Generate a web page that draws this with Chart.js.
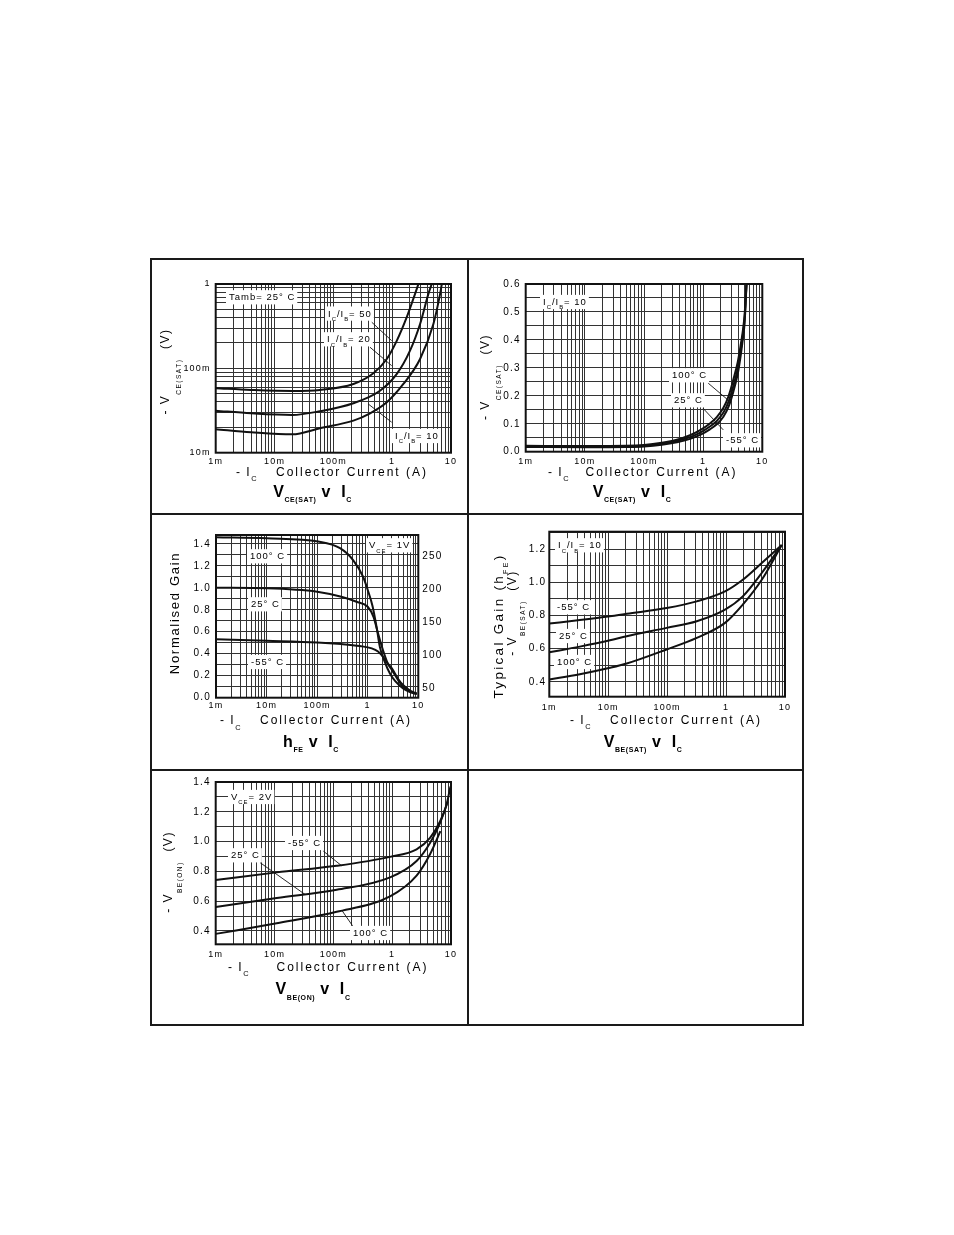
<!DOCTYPE html>
<html>
<head>
<meta charset="utf-8">
<script src="https://cdn.jsdelivr.net/npm/chart.js@4.4.1/dist/chart.umd.min.js"></script>
<style>
  html, body { margin: 0; padding: 0; background: #fff; }
  #page { position: relative; width: 954px; height: 1235px; background: #fff; overflow: hidden; }
  .rule { position: absolute; background: #1a1a1a; }
  .cell { position: absolute; }
</style>
</head>
<body>
<div id="page">
  <div class="rule" style="left:150px;top:258px;width:654px;height:2px"></div>
  <div class="rule" style="left:150px;top:1024px;width:654px;height:2px"></div>
  <div class="rule" style="left:150px;top:258px;width:2px;height:768px"></div>
  <div class="rule" style="left:802px;top:258px;width:2px;height:768px"></div>
  <div class="rule" style="left:467px;top:258px;width:2px;height:768px"></div>
  <div class="rule" style="left:150px;top:513px;width:654px;height:2px"></div>
  <div class="rule" style="left:150px;top:769px;width:654px;height:2px"></div>
  <div class="cell" style="left:152px;top:260px;width:315px;height:253px"><canvas id="vceSatRatio"></canvas></div>
  <div class="cell" style="left:469px;top:260px;width:333px;height:253px"><canvas id="vceSatTemp"></canvas></div>
  <div class="cell" style="left:152px;top:515px;width:315px;height:254px"><canvas id="hfe"></canvas></div>
  <div class="cell" style="left:469px;top:515px;width:333px;height:254px"><canvas id="vbeSat"></canvas></div>
  <div class="cell" style="left:152px;top:771px;width:315px;height:253px"><canvas id="vbeOn"></canvas></div>
</div>
<script>
const FONT = '"Liberation Sans", Arial, Helvetica, sans-serif';
const GRID = '#333';

// collector current axis, shared by every panel (A)
const currentDecades = [0.001, 0.01, 0.1, 1, 10];
const currentTickLabels = ['1m', '10m', '100m', '1', '10'];

// VCE(SAT) v IC, Tamb = 25 C, log volts
const vceLogTicks = [0.01, 0.1, 1];
const vceLogLabels = ['10m', '100m', '1'];
const ratio50Current = [0.001, 0.004, 0.02, 0.059, 0.219, 0.479, 0.81, 1.2, 1.77, 2.45, 2.79];
const ratio50Vce = [0.058, 0.0555, 0.054, 0.0555, 0.0653, 0.0875, 0.129, 0.213, 0.404, 0.764, 1.0];
const ratio20Current = [0.001, 0.004, 0.02, 0.059, 0.219, 0.62, 1.2, 2.01, 2.98, 4.13, 4.71];
const ratio20Vce = [0.0315, 0.0293, 0.028, 0.031, 0.0386, 0.0543, 0.0859, 0.162, 0.336, 0.764, 1.0];
const ratio10Current = [0.001, 0.004, 0.02, 0.059, 0.219, 0.421, 0.81, 1.55, 2.98, 5.02, 6.53, 6.98];
const ratio10Vce = [0.019, 0.0175, 0.0165, 0.0195, 0.024, 0.0293, 0.0396, 0.0653, 0.129, 0.336, 0.764, 1.0];

// VCE(SAT) v IC, IC/IB = 10, by temperature
const vceLinTicks = [0, 0.1, 0.2, 0.3, 0.4, 0.5, 0.6];
const vceLinLabels = ['0.0', '0.1', '0.2', '0.3', '0.4', '0.5', '0.6'];
const satCurrent = [0.001, 0.01, 0.05, 0.1, 0.2, 0.36, 0.6, 0.89, 1.3, 1.7, 2.2, 2.7, 3.24, 3.84, 4.3, 4.67, 5.0, 5.2, 5.4];
const sat100Vce = [0.021, 0.020, 0.021, 0.024, 0.032, 0.043, 0.059, 0.077, 0.101, 0.124, 0.157, 0.2, 0.258, 0.32, 0.38, 0.43, 0.485, 0.54, 0.6];
const sat25Vce = [0.019, 0.018, 0.019, 0.021, 0.028, 0.038, 0.052, 0.068, 0.09, 0.11, 0.14, 0.18, 0.235, 0.297, 0.36, 0.415, 0.47, 0.53, 0.6];
const satM55Vce = [0.017, 0.016, 0.017, 0.019, 0.025, 0.034, 0.046, 0.06, 0.08, 0.098, 0.125, 0.162, 0.215, 0.278, 0.342, 0.4, 0.455, 0.52, 0.6];

// hFE v IC, VCE = 1V
const gainTicks = [0, 0.2, 0.4, 0.6, 0.8, 1.0, 1.2, 1.4];
const gainLabels = ['0.0', '0.2', '0.4', '0.6', '0.8', '1.0', '1.2', '1.4'];
const hfeTicks = [50, 100, 150, 200, 250];
const hfeLabels = ['50', '100', '150', '200', '250'];
const gain100Current = [0.001, 0.01, 0.105, 0.283, 0.518, 0.81, 1.0, 1.25, 1.5, 1.74, 2.2, 2.75, 3.5, 5.0, 7.0, 9.3];
const gain100 = [1.46, 1.45, 1.42, 1.36, 1.25, 1.1, 0.98, 0.83, 0.64, 0.46, 0.32, 0.22, 0.15, 0.085, 0.05, 0.034];
const gain25Current = [0.001, 0.01, 0.1, 0.3, 0.6, 1.0, 1.3, 1.6, 2.0, 2.5, 3.0, 4.0, 5.0, 7.0, 9.3];
const gain25 = [1.0, 0.995, 0.964, 0.918, 0.873, 0.827, 0.736, 0.585, 0.434, 0.31, 0.252, 0.16, 0.1, 0.055, 0.034];
const gainM55Current = [0.001, 0.01, 0.1, 0.3, 0.7, 1.2, 1.6, 2.0, 2.5, 3.0, 4.0, 5.0, 7.0, 9.3];
const gainM55 = [0.531, 0.518, 0.503, 0.488, 0.47, 0.449, 0.42, 0.373, 0.31, 0.267, 0.17, 0.115, 0.062, 0.04];

// VBE(SAT) v IC, IC/IB = 10
const vbeSatTicks = [0.4, 0.6, 0.8, 1.0, 1.2];
const vbeSatLabels = ['0.4', '0.6', '0.8', '1.0', '1.2'];
const vbeSatCurrent = [0.001, 0.0033, 0.0107, 0.0206, 0.098, 0.318, 0.96, 1.92, 4.03, 8.8];
const vbeSatM55 = [0.751, 0.772, 0.795, 0.81, 0.845, 0.885, 0.945, 1.015, 1.116, 1.225];
const vbeSat25 = [0.578, 0.612, 0.65, 0.675, 0.725, 0.765, 0.835, 0.915, 1.056, 1.225];
const vbeSat100 = [0.414, 0.445, 0.484, 0.51, 0.595, 0.665, 0.755, 0.865, 1.015, 1.225];

// VBE(ON) v IC, VCE = 2V
const vbeOnTicks = [0.4, 0.6, 0.8, 1.0, 1.2, 1.4];
const vbeOnLabels = ['0.4', '0.6', '0.8', '1.0', '1.2', '1.4'];
const vbeOnM55Current = [0.001, 0.0109, 0.114, 0.92, 2.6, 4.4, 6.5, 8.3, 9.8];
const vbeOnM55 = [0.742, 0.793, 0.837, 0.897, 0.948, 1.025, 1.135, 1.24, 1.37];
const vbeOn25Current = [0.001, 0.0109, 0.114, 0.92, 2.6, 4.4, 6.5, 8.8];
const vbeOn25 = [0.561, 0.621, 0.676, 0.76, 0.87, 0.991, 1.124, 1.268];
const vbeOn100Current = [0.001, 0.0109, 0.114, 0.92, 2.6, 4.4, 6.6];
const vbeOn100 = [0.38, 0.451, 0.528, 0.632, 0.771, 0.915, 1.07];

const pts = (xs, ys) => xs.map((x, i) => ({ x, y: ys[i] }));

function logGrid(lo, hi) {
  const out = [];
  for (let e = Math.round(Math.log10(lo)); e < Math.round(Math.log10(hi)); e++) {
    for (let k = 1; k < 10; k++) out.push(+(k * Math.pow(10, e)).toPrecision(6));
  }
  out.push(hi);
  return out;
}

function linGrid(lo, hi, step) {
  const out = [];
  for (let v = lo; v <= hi + 1e-9; v += step) out.push(Math.round(v * 1000) / 1000);
  return out;
}

function labelFor(v, values, labels) {
  const i = values.findIndex(t => Math.abs(t - v) <= Math.abs(t) * 1e-6 + 1e-9);
  return i >= 0 ? labels[i] : '';
}

function currentAxis(height, pad) {
  return {
    type: 'logarithmic', position: 'bottom', min: 0.001, max: 10,
    afterBuildTicks: s => { s.ticks = logGrid(0.001, 10).map(v => ({ value: v })); },
    afterFit: s => { s.height = height; },
    grid: { color: GRID, lineWidth: 1, drawTicks: false },
    border: { display: false },
    ticks: {
      autoSkip: false, maxRotation: 0, padding: pad, color: '#000',
      font: { family: FONT, size: 9 },
      callback: v => labelFor(v, currentDecades, currentTickLabels),
    },
  };
}

function valueAxis(o) {
  return {
    type: o.log ? 'logarithmic' : 'linear',
    position: o.position || 'left',
    min: o.min, max: o.max,
    afterBuildTicks: s => { s.ticks = o.grid.map(v => ({ value: v })); },
    afterFit: s => { s.width = o.width; },
    grid: { display: o.showGrid !== false, color: GRID, lineWidth: 1, drawTicks: false },
    border: { display: false },
    ticks: {
      autoSkip: false, padding: o.pad, color: '#000',
      font: { family: FONT, size: o.font || 10 },
      callback: v => labelFor(v, o.ticks, o.labels),
    },
  };
}

function drawRich(ctx, t, cell) {
  const size = t.size || 10;
  const sub = t.sub || Math.round(size * 0.62 * 10) / 10;
  const weight = t.bold ? 'bold ' : '';
  ctx.save();
  ctx.letterSpacing = (t.spacing ?? 1) + 'px';
  ctx.textAlign = 'left';
  ctx.textBaseline = 'alphabetic';
  const segs = t.parts.map(([text, isSub]) => {
    const font = weight + (isSub ? sub : size) + 'px ' + FONT;
    ctx.font = font;
    return { text, isSub, font, w: ctx.measureText(text).width };
  });
  const total = segs.reduce((a, s) => a + s.w, 0);
  ctx.translate(t.x - cell.left, t.y - cell.top);
  if (t.rotate) ctx.rotate(-Math.PI / 2);
  let x = t.align === 'center' ? -total / 2 : 0;
  const base = size * 0.36;
  const drop = t.drop ?? sub * 0.72;
  if (t.box) {
    ctx.fillStyle = '#fff';
    ctx.fillRect(x - 3, -size * 0.72, total + 5, size * 1.5);
  }
  ctx.fillStyle = '#000';
  for (const s of segs) {
    ctx.font = s.font;
    ctx.fillText(s.text, x, base + (s.isSub ? drop : 0));
    x += s.w;
  }
  ctx.restore();
}

function sheetPlugin(spec) {
  return {
    id: 'sheet',
    beforeDraw(chart) { chart.ctx.letterSpacing = '1.2px'; },
    beforeDatasetsDraw(chart) {
      const ctx = chart.ctx;
      const xs = chart.scales.x, ys = chart.scales.y;
      ctx.save();
      ctx.strokeStyle = '#111';
      ctx.lineWidth = 0.9;
      for (const [x1, y1, x2, y2] of spec.leaders || []) {
        ctx.beginPath();
        ctx.moveTo(xs.getPixelForValue(x1), ys.getPixelForValue(y1));
        ctx.lineTo(xs.getPixelForValue(x2), ys.getPixelForValue(y2));
        ctx.stroke();
      }
      ctx.restore();
      for (const n of spec.notes || []) drawRich(ctx, Object.assign({ size: 9.5, box: true }, n), spec.cell);
    },
    afterDatasetsDraw(chart) {
      const { ctx, chartArea: a } = chart;
      ctx.save();
      ctx.strokeStyle = '#111';
      ctx.lineWidth = 2;
      ctx.strokeRect(a.left, a.top, a.right - a.left, a.bottom - a.top);
      ctx.restore();
    },
    afterDraw(chart) {
      for (const t of spec.texts || []) drawRich(chart.ctx, t, spec.cell);
    },
  };
}

function panel(id, spec) {
  const { cell, plot } = spec;
  const scales = { x: currentAxis(cell.top + cell.h - plot.b, spec.xPad), y: spec.y };
  if (spec.y2) scales.y2 = spec.y2;
  const rightAxis = spec.y2 ? spec.y2.afterFitWidth : 0;
  return new Chart(document.getElementById(id), {
    type: 'line',
    data: {
      datasets: spec.series.map(s => ({
        label: s.name,
        data: s.data,
        borderColor: '#111',
        borderWidth: 2,
        pointRadius: 0,
        fill: false,
        cubicInterpolationMode: 'monotone',
      })),
    },
    options: {
      responsive: true,
      maintainAspectRatio: false,
      animation: false,
      events: [],
      layout: { padding: { top: plot.t - cell.top, right: cell.left + cell.w - plot.r - rightAxis, left: 0, bottom: 0 } },
      plugins: { legend: { display: false }, tooltip: { enabled: false } },
      scales,
    },
    plugins: [sheetPlugin(spec)],
  });
}

const T = (s) => [[s]];
const deg = (t) => T(t + '\u00b0 C');
const ratioLabel = (n) => [['I'], ['C', 1], ['/I'], ['B', 1], ['= ' + n]];
const xTitle = (x1, x2, y) => [
  { x: x1, y, size: 12, spacing: 1.5, parts: [['- I'], ['C', 1]] },
  { x: x2, y, size: 12, spacing: 2, align: 'center', parts: T('Collector Current (A)') },
];

panel('vceSatRatio', {
  cell: { left: 152, top: 260, w: 315, h: 253 },
  plot: { l: 215.7, t: 284, r: 451, b: 452.7 },
  xPad: 3,
  y: valueAxis({ log: true, min: 0.01, max: 1, grid: logGrid(0.01, 1), ticks: vceLogTicks, labels: vceLogLabels, width: 63.7, pad: 5, font: 9 }),
  series: [
    { name: 'IC/IB=50', data: pts(ratio50Current, ratio50Vce) },
    { name: 'IC/IB=20', data: pts(ratio20Current, ratio20Vce) },
    { name: 'IC/IB=10', data: pts(ratio10Current, ratio10Vce) },
  ],
  leaders: [[0.45, 0.352, 0.98, 0.213], [0.42, 0.178, 0.98, 0.1076], [0.98, 0.023, 0.39, 0.0379]],
  notes: [
    { x: 229, y: 297, parts: T('Tamb= 25\u00b0 C') },
    { x: 328, y: 313.3, parts: ratioLabel(50) },
    { x: 327, y: 339, parts: ratioLabel(20) },
    { x: 395, y: 435.7, parts: ratioLabel(10) },
  ],
  texts: [
    { x: 165, y: 371.5, rotate: true, align: 'center', size: 12, spacing: 1.5, sub: 6.5, drop: 12, parts: [['- V'], ['CE(SAT)', 1], ['  (V)']] },
    ...xTitle(236, 352, 471.7),
    { x: 312.5, y: 491, bold: true, size: 16, sub: 7, spacing: 0.6, drop: 5.5, align: 'center', parts: [['V'], ['CE(SAT)', 1], [' v  I'], ['C', 1]] },
  ],
});

panel('vceSatTemp', {
  cell: { left: 469, top: 260, w: 333, h: 253 },
  plot: { l: 525.7, t: 284, r: 762.3, b: 451.7 },
  xPad: 4,
  y: valueAxis({ min: 0, max: 0.6, grid: linGrid(0, 0.6, 0.05), ticks: vceLinTicks, labels: vceLinLabels, width: 56.7, pad: 5 }),
  series: [
    { name: '100 C', data: pts(satCurrent, sat100Vce) },
    { name: '25 C', data: pts(satCurrent, sat25Vce) },
    { name: '-55 C', data: pts(satCurrent, satM55Vce) },
  ],
  leaders: [[1.22, 0.245, 2.84, 0.179], [1.0, 0.155, 2.19, 0.078]],
  notes: [
    { x: 543, y: 301.7, parts: ratioLabel(10) },
    { x: 672, y: 375, parts: deg('100') },
    { x: 674, y: 400, parts: deg('25') },
    { x: 726, y: 440, parts: deg('-55') },
  ],
  texts: [
    { x: 485, y: 377, rotate: true, align: 'center', size: 12, spacing: 1.5, sub: 6.5, drop: 12, parts: [['- V'], ['CE(SAT)', 1], ['  (V)']] },
    ...xTitle(548, 661.5, 471.7),
    { x: 632, y: 491, bold: true, size: 16, sub: 7, spacing: 0.6, drop: 5.5, align: 'center', parts: [['V'], ['CE(SAT)', 1], [' v  I'], ['C', 1]] },
  ],
});

const hfeAxis = valueAxis({ position: 'right', min: 35.3, max: 281.4, grid: hfeTicks, ticks: hfeTicks, labels: hfeLabels, width: 48.7, pad: 4, showGrid: false });
hfeAxis.afterFitWidth = 48.7;

panel('hfe', {
  cell: { left: 152, top: 515, w: 315, h: 254 },
  plot: { l: 216, t: 535, r: 418.3, b: 697.7 },
  xPad: 2,
  y: valueAxis({ min: 0, max: 1.48, grid: linGrid(0, 1.4, 0.1), ticks: gainTicks, labels: gainLabels, width: 64, pad: 5 }),
  y2: hfeAxis,
  series: [
    { name: '100 C', data: pts(gain100Current, gain100) },
    { name: '25 C', data: pts(gain25Current, gain25) },
    { name: '-55 C', data: pts(gainM55Current, gainM55) },
  ],
  notes: [
    { x: 250, y: 556, parts: deg('100') },
    { x: 251, y: 604, parts: deg('25') },
    { x: 251, y: 661.7, parts: deg('-55') },
    { x: 369, y: 545, parts: [['V'], ['CE', 1], ['= 1V']] },
  ],
  texts: [
    { x: 174, y: 613, rotate: true, align: 'center', size: 13, spacing: 1.7, parts: T('Normalised Gain') },
    ...xTitle(220, 336, 720),
    { x: 311, y: 741, bold: true, size: 16, sub: 7, spacing: 0.6, drop: 5.5, align: 'center', parts: [['h'], ['FE', 1], [' v  I'], ['C', 1]] },
  ],
});

panel('vbeSat', {
  cell: { left: 469, top: 515, w: 333, h: 254 },
  plot: { l: 549.3, t: 531.7, r: 785, b: 696.7 },
  xPad: 5,
  y: valueAxis({ min: 0.31, max: 1.305, grid: linGrid(0.4, 1.3, 0.1), ticks: vbeSatTicks, labels: vbeSatLabels, width: 80.3, pad: 3 }),
  series: [
    { name: '-55 C', data: pts(vbeSatCurrent, vbeSatM55) },
    { name: '25 C', data: pts(vbeSatCurrent, vbeSat25) },
    { name: '100 C', data: pts(vbeSatCurrent, vbeSat100) },
  ],
  notes: [
    { x: 558, y: 545, parts: ratioLabel(10) },
    { x: 557, y: 607, parts: deg('-55') },
    { x: 559, y: 635.7, parts: deg('25') },
    { x: 557, y: 661.7, parts: deg('100') },
  ],
  texts: [
    { x: 498, y: 626, rotate: true, align: 'center', size: 13.5, spacing: 2.3, sub: 7, parts: [['Typical Gain (h'], ['FE', 1], [')']] },
    { x: 512, y: 613, rotate: true, align: 'center', size: 12, spacing: 1.5, sub: 6.5, drop: 9, parts: [['- V'], ['BE(SAT)', 1], ['  (V)']] },
    ...xTitle(570, 686, 719.3),
    { x: 643, y: 741, bold: true, size: 16, sub: 7, spacing: 0.6, drop: 5.5, align: 'center', parts: [['V'], ['BE(SAT)', 1], [' v  I'], ['C', 1]] },
  ],
});

panel('vbeOn', {
  cell: { left: 152, top: 771, w: 315, h: 253 },
  plot: { l: 215.7, t: 779.3, r: 451, b: 944.3 },
  xPad: 5,
  y: valueAxis({ min: 0.31, max: 1.4, grid: linGrid(0.4, 1.4, 0.1), ticks: vbeOnTicks, labels: vbeOnLabels, width: 63.7, pad: 5 }),
  series: [
    { name: '-55 C', data: pts(vbeOnM55Current, vbeOnM55) },
    { name: '25 C', data: pts(vbeOn25Current, vbeOn25) },
    { name: '100 C', data: pts(vbeOn100Current, vbeOn100) },
  ],
  leaders: [[0.0675, 0.936, 0.139, 0.837], [0.00566, 0.859, 0.033, 0.645], [0.233, 0.411, 0.139, 0.539]],
  notes: [
    { x: 231, y: 796.7, parts: [['V'], ['CE', 1], ['= 2V']] },
    { x: 288, y: 842.7, parts: deg('-55') },
    { x: 231, y: 855, parts: deg('25') },
    { x: 353, y: 932.7, parts: deg('100') },
  ],
  texts: [
    { x: 168, y: 872, rotate: true, align: 'center', size: 12, spacing: 1.5, sub: 6.5, drop: 10, parts: [['- V'], ['BE(ON)', 1], ['  (V)']] },
    ...xTitle(228, 352.5, 966.7),
    { x: 313, y: 988.5, bold: true, size: 16, sub: 7, spacing: 0.6, drop: 5.5, align: 'center', parts: [['V'], ['BE(ON)', 1], [' v  I'], ['C', 1]] },
  ],
});
</script>
</body>
</html>
